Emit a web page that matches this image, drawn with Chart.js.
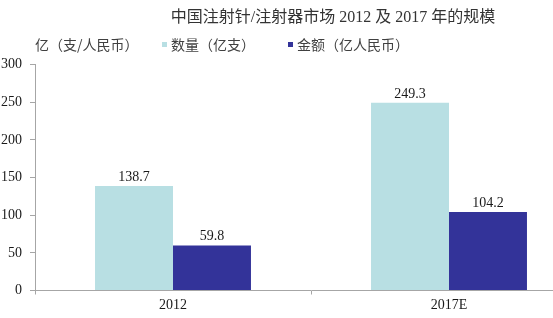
<!DOCTYPE html>
<html>
<head>
    <meta charset="utf-8">
    <title>中国注射针/注射器市场规模</title>
    <script src="https://cdn.jsdelivr.net/npm/chart.js@4.4.3/dist/chart.umd.js"></script>
</head>

<body>
    <div id="wrap">
        <canvas id="marketChart" width="666" height="318"></canvas>
    </div>

    <script>
        const years = ['2012', '2017E'];
        const volume = [138.7, 249.3];   // 数量（亿支）
        const amount = [59.8, 104.2];    // 金额（亿人民币）
        const yTicks = [0, 50, 100, 150, 200, 250, 300];

        const serif = "'Liberation Serif', 'Noto Sans CJK SC', serif";
        const cjk = "'Noto Sans CJK SC', sans-serif";

        // numbers above every bar
        const barValues = {
            id: 'barValues',
            afterDatasetsDraw(chart) {
                const ctx = chart.ctx;
                ctx.save();
                ctx.font = '14px ' + serif;
                ctx.fillStyle = '#1a1a1a';
                ctx.textAlign = 'center';
                ctx.textBaseline = 'alphabetic';
                chart.data.datasets.forEach((ds, i) => {
                    chart.getDatasetMeta(i).data.forEach((bar, j) => {
                        ctx.fillText(ds.data[j].toFixed(1), bar.x, bar.y - 5);
                    });
                });
                ctx.restore();
            }
        };

        // title, unit caption and legend row above the plot
        const header = {
            id: 'header',
            afterDraw(chart) {
                const ctx = chart.ctx;
                ctx.save();
                ctx.font = '16px ' + serif;
                ctx.fillStyle = '#333333';
                ctx.textAlign = 'center';
                ctx.textBaseline = 'middle';
                ctx.fillText('中国注射针/注射器市场 2012 及 2017 年的规模', 333, 18);

                const y = 45;
                ctx.font = '14px ' + cjk;
                ctx.fillStyle = '#404040';
                ctx.textAlign = 'left';
                ctx.fillText('亿（支/人民币）', 35, y);
                const xs = [162, 288];
                chart.data.datasets.forEach((ds, i) => {
                    ctx.fillStyle = ds.backgroundColor;
                    ctx.fillRect(xs[i], y - 3, 5, 5);
                    ctx.fillStyle = '#404040';
                    ctx.fillText(ds.label, xs[i] + 9, y);
                });
                ctx.restore();
            }
        };

        new Chart(document.getElementById('marketChart'), {
            type: 'bar',
            data: {
                labels: years,
                datasets: [{
                    label: '数量（亿支）',
                    data: volume,
                    backgroundColor: '#b8dfe3',
                    categoryPercentage: 0.565,
                    barPercentage: 1
                }, {
                    label: '金额（亿人民币）',
                    data: amount,
                    backgroundColor: '#333399',
                    categoryPercentage: 0.565,
                    barPercentage: 1
                }]
            },
            options: {
                responsive: false,
                animation: false,
                layout: { padding: { left: 0, right: 79, top: 64.5, bottom: 0 } },
                plugins: {
                    legend: { display: false },
                    tooltip: { enabled: false },
                    title: { display: false }
                },
                scales: {
                    x: {
                        afterFit(scale) { scale.height = 27.5; },
                        border: { color: '#a6a6a6' },
                        grid: { drawOnChartArea: false, tickLength: 4, color: '#a6a6a6' },
                        ticks: { color: '#1a1a1a', padding: 2, font: { family: serif, size: 14 } }
                    },
                    y: {
                        min: 0,
                        max: 300,
                        afterFit(scale) { scale.width = 35; },
                        afterBuildTicks(scale) { scale.ticks = yTicks.map(v => ({ value: v })); },
                        border: { color: '#a6a6a6' },
                        grid: { drawOnChartArea: false, tickLength: 5, color: '#a6a6a6' },
                        ticks: { color: '#1a1a1a', padding: 8, font: { family: serif, size: 14 } }
                    }
                }
            },
            plugins: [barValues, header]
        });
    </script>
</body>

<style>
    html, body {
        margin: 0;
        padding: 0;
        background: #ffffff;
        overflow: hidden;
    }

    #wrap {
        width: 666px;
        height: 318px;
    }
</style>
</html>
